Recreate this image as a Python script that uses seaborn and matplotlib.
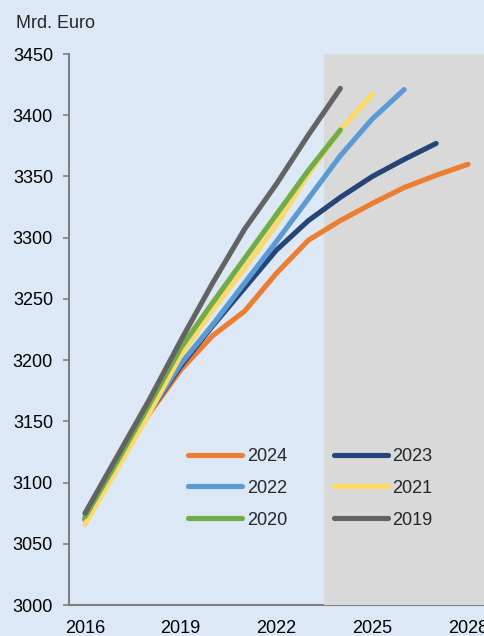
import pandas as pd
import matplotlib.pyplot as plt
import seaborn as sns

sns.set_theme(style="white")
plt.rcParams["font.family"] = ["Liberation Sans", "DejaVu Sans"]

# Projektionen je Jahrgang (Mrd. Euro)
years_2024 = list(range(2016, 2029))
vals_2024 = [3070, 3114, 3156, 3192, 3220, 3240, 3271, 3298, 3314, 3328, 3341, 3351, 3360]
years_2023 = list(range(2016, 2028))
vals_2023 = [3070, 3113, 3157, 3195, 3228, 3259, 3290, 3314, 3333, 3350, 3364, 3377]
years_2022 = list(range(2016, 2027))
vals_2022 = [3070, 3113, 3157, 3197, 3229, 3263, 3297, 3332, 3367, 3397, 3421]
years_2021 = list(range(2016, 2026))
vals_2021 = [3066, 3111, 3156, 3204, 3241, 3275, 3311, 3352, 3388, 3417]
years_2020 = list(range(2016, 2025))
vals_2020 = [3072, 3117, 3163, 3210, 3247, 3283, 3319, 3355, 3388]
years_2019 = list(range(2016, 2025))
vals_2019 = [3075, 3121, 3167, 3216, 3263, 3307, 3344, 3384, 3422]

series = {
    "2024": (years_2024, vals_2024),
    "2023": (years_2023, vals_2023),
    "2022": (years_2022, vals_2022),
    "2021": (years_2021, vals_2021),
    "2020": (years_2020, vals_2020),
    "2019": (years_2019, vals_2019),
}
colors = {
    "2024": "#ED7D31",
    "2023": "#264478",
    "2022": "#5B9BD5",
    "2021": "#FFD966",
    "2020": "#70AD47",
    "2019": "#636363",
}

rows = []
for name, (xs, ys) in series.items():
    for x, y in zip(xs, ys):
        rows.append({"Jahr": x, "Wert": y, "Jahrgang": name})
df = pd.DataFrame(rows)

bg = "#DCE8F6"
fig = plt.figure(figsize=(4.84, 6.36), dpi=100, facecolor=bg)
ax = fig.add_axes([0.1426, 0.0487, 0.8574, 0.8663])
ax.set_facecolor(bg)

ax.axvspan(2023.5, 2028.5, color="#D9D9D9", lw=0, zorder=2.6)

sns.lineplot(data=df, x="Jahr", y="Wert", hue="Jahrgang", palette=colors,
             hue_order=list(series.keys()), linewidth=3.7, ax=ax,
             legend=False, zorder=3)
for line in ax.get_lines():
    line.set_solid_capstyle("round")
    line.set_zorder(3)

ax.set_xlim(2015.5, 2028.5)
ax.set_ylim(3000, 3450)
ax.set_xticks([2016, 2019, 2022, 2025, 2028])
ax.set_yticks(range(3000, 3451, 50))
ax.set_xlabel("")
ax.set_ylabel("")
for s in ["top", "right"]:
    ax.spines[s].set_visible(False)
for s in ["left", "bottom"]:
    ax.spines[s].set_color("#7F7F7F")
    ax.spines[s].set_linewidth(1.5)
ax.tick_params(axis="y", left=True, length=4.5, width=1.2, color="#7F7F7F",
               pad=7, labelsize=13, labelcolor="black")
ax.tick_params(axis="x", bottom=False, length=0, pad=11, labelsize=13,
               labelcolor="black")

order = ["2024", "2022", "2020", "2023", "2021", "2019"]
handles = [plt.Line2D([], [], color=colors[k], lw=3.7, solid_capstyle="round")
           for k in order]
ax.legend(handles, order, ncol=2, loc="upper left",
          bbox_to_anchor=(0.2867, 0.285), frameon=False, fontsize=13,
          handlelength=3.0, handletextpad=0.25, columnspacing=2.6,
          labelspacing=0.82, borderpad=0, borderaxespad=0)

fig.text(16 / 484, 1 - 23 / 636, "Mrd. Euro", fontsize=13, va="center",
         ha="left")

fig.savefig("out.png", dpi=100, facecolor=bg)
